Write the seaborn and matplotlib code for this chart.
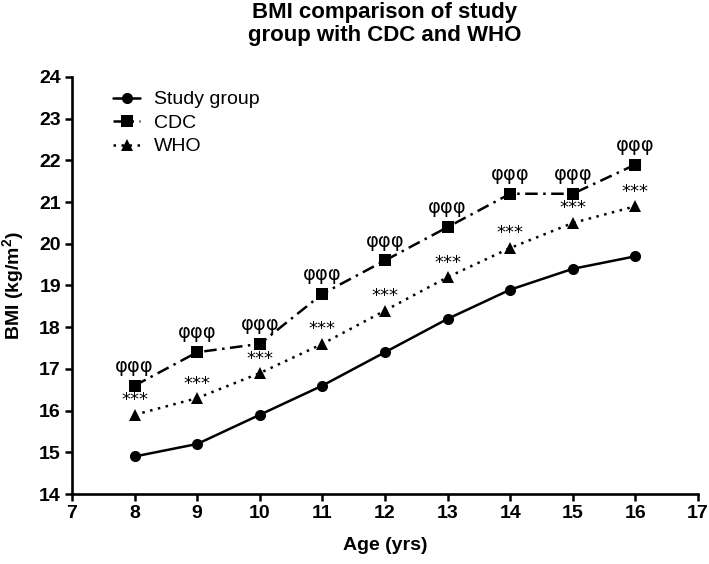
import pandas as pd
import matplotlib.pyplot as plt
import seaborn as sns

# Values
ages = [8, 9, 10, 11, 12, 13, 14, 15, 16]
study_bmi = [14.9, 15.2, 15.9, 16.6, 17.4, 18.2, 18.9, 19.4, 19.7]
cdc_bmi = [16.6, 17.4, 17.6, 18.8, 19.6, 20.4, 21.2, 21.2, 21.9]
who_bmi = [15.9, 16.3, 16.9, 17.6, 18.4, 19.2, 19.9, 20.5, 20.9]
groups = ['Study group', 'CDC', 'WHO']
cdc_mark = 'φφφ'
who_mark = '***'

sns.set_style('ticks', {'axes.edgecolor': 'black', 'xtick.color': 'black',
                        'ytick.color': 'black', 'text.color': 'black',
                        'axes.labelcolor': 'black'})
plt.rcParams['font.family'] = ['Liberation Sans', 'DejaVu Sans']
plt.rcParams['mathtext.fontset'] = 'custom'
plt.rcParams['mathtext.rm'] = 'Liberation Sans'
plt.rcParams['mathtext.bf'] = 'Liberation Sans:bold'

df = pd.DataFrame({
    'Age': ages * 3,
    'BMI': study_bmi + cdc_bmi + who_bmi,
    'Group': [g for g in groups for _ in ages],
})

fig = plt.figure(figsize=(7.09, 5.64), dpi=100)
ax = fig.add_axes([0.1016, 0.1241, 0.8829, 0.7394])

sns.lineplot(data=df, x='Age', y='BMI', style='Group', style_order=groups,
             markers={'Study group': 'o', 'CDC': 's', 'WHO': '^'},
             dashes={'Study group': '', 'CDC': (5, 2.2, 1, 2.2), 'WHO': (1, 2.2)},
             color='black', linewidth=1.8, markersize=8, markeredgewidth=0,
             ax=ax)

# significance marks
for a, c, w in zip(ages, cdc_bmi, who_bmi):
    ax.annotate(cdc_mark, (a, c), xytext=(0, 7), textcoords='offset points',
                ha='center', va='bottom', fontsize=14, family='DejaVu Sans')
    ax.annotate(who_mark, (a, w), xytext=(0, 4), textcoords='offset points',
                ha='center', va='bottom', fontsize=13, family='DejaVu Sans')

ax.set_xlim(7, 17)
ax.set_ylim(14, 24)
ax.set_xticks(range(7, 18))
ax.set_yticks(range(14, 25))
ax.tick_params(width=1.8, length=5, labelsize=14, pad=3, colors='black')
for lab in ax.get_xticklabels() + ax.get_yticklabels():
    lab.set_fontweight('bold')
for s in ['left', 'bottom']:
    ax.spines[s].set_linewidth(1.9)
    ax.spines[s].set_color('black')
sns.despine(ax=ax)

ax.set_xlabel('Age (yrs)', fontsize=14, fontweight='bold', labelpad=11)
ax.set_ylabel('BMI (kg/m$^\\mathbf{2}$)', fontsize=14, fontweight='bold', labelpad=9)
ax.set_title('BMI comparison of study\ngroup with CDC and WHO',
             fontsize=16, fontweight='bold', pad=26, linespacing=1.1)

leg = ax.legend(loc='upper left', bbox_to_anchor=(0.05, 0.99), frameon=False,
                fontsize=14, handlelength=1.4, handletextpad=0.7,
                labelspacing=0.3, borderpad=0, title=None)

fig.savefig('out.png', dpi=100)
